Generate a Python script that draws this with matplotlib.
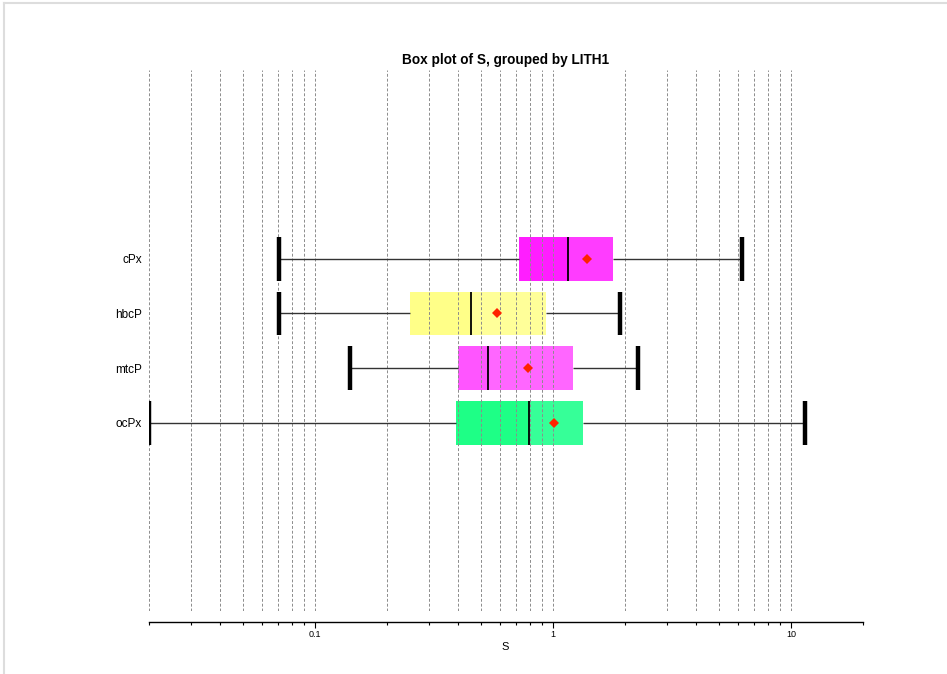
import matplotlib
matplotlib.use("Agg")
import matplotlib.pyplot as plt
from matplotlib.ticker import LogLocator, NullFormatter, FixedLocator, FixedFormatter
from matplotlib.lines import Line2D

plt.rcParams['font.family'] = ['Liberation Sans', 'DejaVu Sans']

# ---- data ----
categories = ["ocPx", "mtcP", "hbcP", "cPx"]
whisker_lo = [0.0201, 0.1407, 0.0704, 0.0704]
q1 = [0.392, 0.400, 0.251, 0.717]
median = [0.795, 0.532, 0.451, 1.153]
mean = [1.007, 0.785, 0.583, 1.394]
q3 = [1.34, 1.217, 0.937, 1.781]
whisker_hi = [11.5, 2.276, 1.912, 6.21]
color_low = ["#1eff86", "#ff55ff", "#ffff88", "#ff1eff"]
color_high = ["#36ff98", "#ff66ff", "#ffff99", "#ff3cff"]
major_ticks = [0.1, 1, 10]
major_labels = ["0.1", "1", "10"]

W, H = 947, 674
fig = plt.figure(figsize=(W / 100, H / 100), dpi=100)
left_px, right_px, top_px, bot_px = 148.6, 862.7, 70, 611
ax = fig.add_axes([left_px / W, 1 - bot_px / H, (right_px - left_px) / W, (bot_px - top_px) / H])

ypos = list(range(1, len(categories) + 1))
bh = 0.80

for i, y in enumerate(ypos):
    ax.barh(y, median[i] - q1[i], left=q1[i], height=bh, color=color_low[i], zorder=1, linewidth=0)
    ax.barh(y, q3[i] - median[i], left=median[i], height=bh, color=color_high[i], zorder=1, linewidth=0)
    ax.vlines(median[i], y - bh / 2, y + bh / 2, color="black", lw=1.3, zorder=4)
    ax.hlines(y, whisker_lo[i], q1[i], color="#333333", lw=1.0, zorder=4)
    ax.hlines(y, q3[i], whisker_hi[i], color="#333333", lw=1.0, zorder=4)
    ax.vlines([whisker_lo[i], whisker_hi[i]], y - bh / 2, y + bh / 2, color="black", lw=3.2, zorder=5)
    ax.plot(mean[i], y, marker="D", color="#ff2200", markersize=5.5, markeredgewidth=0, zorder=6)

ax.set_xscale("log")
ax.set_xlim(0.02, 20)
ax.set_ylim(1 - 3.44, 4 + 3.45)

ax.xaxis.set_major_locator(FixedLocator(major_ticks))
ax.xaxis.set_major_formatter(FixedFormatter(major_labels))
ax.xaxis.set_minor_locator(LogLocator(base=10, subs=range(2, 10), numticks=20))
ax.xaxis.set_minor_formatter(NullFormatter())

ax.grid(True, which="both", axis="x", color="#8c8c8c", linestyle=(0, (3, 2)), linewidth=0.7)
ax.set_axisbelow(False)

ax.set_yticks(ypos)
ax.set_yticklabels(categories, fontsize=8.5)
ax.tick_params(axis="y", length=0, pad=5)
ax.tick_params(axis="x", which="major", length=4, width=0.8, labelsize=6.5, pad=2)
ax.tick_params(axis="x", which="minor", length=2, width=0.8)

for s in ["top", "right", "left"]:
    ax.spines[s].set_visible(False)
ax.spines["bottom"].set_position(("outward", 8))
ax.spines["bottom"].set_linewidth(1.0)

ax.set_xlabel("S", fontsize=8, labelpad=2)
fig.text((left_px + right_px) / 2 / W, 1 - 60 / H, "Box plot of S, grouped by LITH1",
         ha="center", va="center", fontsize=9.8, fontweight="bold")

# screenshot frame
fig.add_artist(Line2D([4 / W, 1], [1 - 3 / H, 1 - 3 / H], color="#dddddd", lw=1.5, transform=fig.transFigure))
fig.add_artist(Line2D([4 / W, 4 / W], [0, 1 - 3 / H], color="#dddddd", lw=1.5, transform=fig.transFigure))

fig.savefig("out.png", dpi=100)
